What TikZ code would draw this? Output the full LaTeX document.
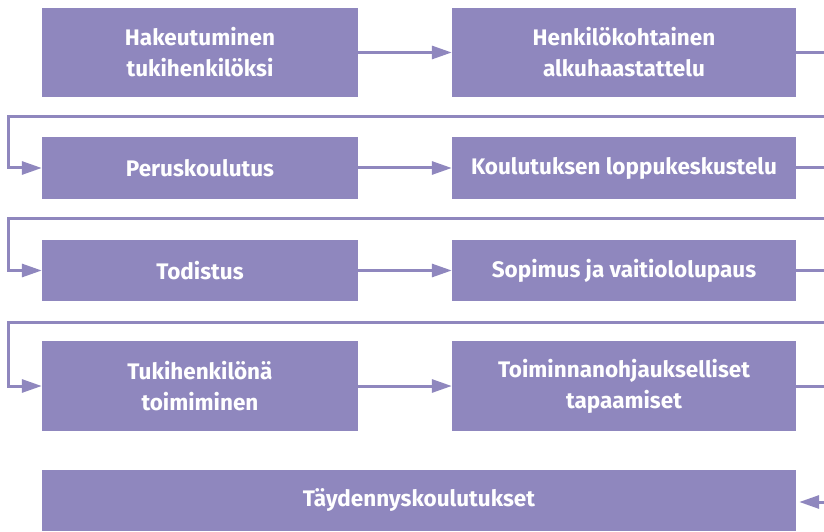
\documentclass[tikz,border=0pt]{standalone}
\usepackage{fontspec}
\setmainfont{Fira Sans}
\usetikzlibrary{arrows.meta}
\definecolor{boxc}{RGB}{143,135,190}
\begin{document}
\begin{tikzpicture}[x=1pt,y=1pt,
  box/.style={fill=boxc, text=white, font=\bfseries\fontsize{22.5}{31}\selectfont, align=center, inner sep=0pt, anchor=center},
  lbox/.style={box, minimum width=316pt},
  rbox/.style={box, minimum width=344pt},
  conn/.style={draw=boxc, line width=3pt, -{Triangle[length=20pt,width=13pt]}}]
\useasboundingbox (0,0) rectangle (824,531);
\clip (0,0) rectangle (824,531);
\node[lbox, minimum height=89pt] (a1) at (200,478.5) {Hakeutuminen\\tukihenkilöksi};
\node[rbox, minimum height=89pt] (b1) at (624,478.5) {Henkilökohtainen\\alkuhaastattelu};
\node[lbox, minimum height=62pt] (a2) at (200,363) {Peruskoulutus};
\node[rbox, minimum height=62pt] (b2) at (624,363) {Koulutuksen loppukeskustelu};
\node[lbox, minimum height=61pt] (a3) at (200,260.5) {Todistus};
\node[rbox, minimum height=61pt] (b3) at (624,260.5) {Sopimus ja vaitiololupaus};
\node[lbox, minimum height=90pt] (a4) at (200,145) {Tukihenkilönä\\toimiminen};
\node[rbox, minimum height=90pt] (b4) at (624,145) {Toiminnanohjaukselliset\\tapaamiset};
\node[box, minimum width=754pt, minimum height=61pt] (e) at (419,30.5) {Täydennyskoulutukset};
\coordinate (r1) at (860,414);
\coordinate (l1) at (8.5,414);
\coordinate (r2) at (860,313);
\coordinate (l2) at (8.5,313);
\coordinate (r3) at (860,209);
\coordinate (l3) at (8.5,209);
\coordinate (r4) at (860,29);
\draw[conn] (a1.east) -- (b1.west);
\draw[conn] (a2.east) -- (b2.west);
\draw[conn] (a3.east) -- (b3.west);
\draw[conn] (a4.east) -- (b4.west);
\draw[conn] (b1.east) -| (r1) -- (l1) |- (a2.west);
\draw[conn] (b2.east) -| (r2) -- (l2) |- (a3.west);
\draw[conn] (b3.east) -| (r3) -- (l3) |- (a4.west);
\draw[conn, shorten >=3pt] (b4.east) -| (r4) -- (e.east |- r4);
\end{tikzpicture}
\end{document}
